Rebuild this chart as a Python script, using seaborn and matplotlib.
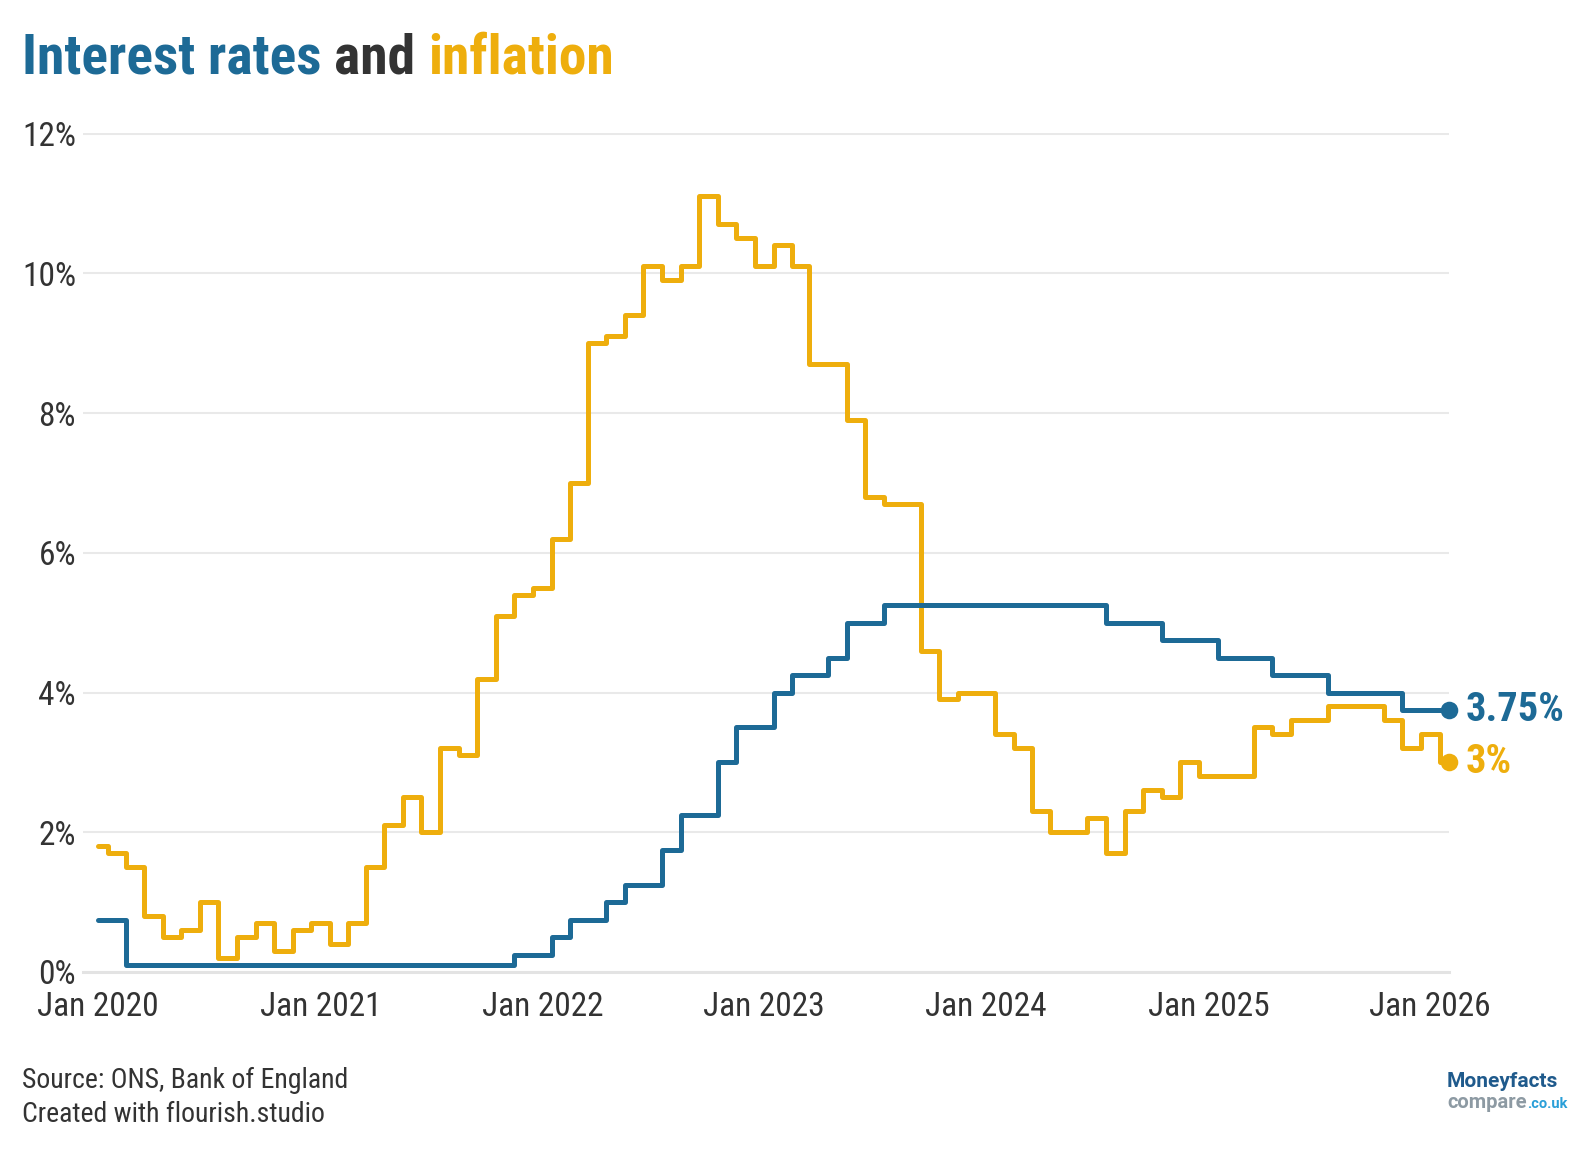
import matplotlib
matplotlib.use("Agg")
import matplotlib.pyplot as plt
import seaborn as sns
import pandas as pd

# monthly points, Jan 2020 - Feb 2026
months = pd.date_range("2020-01-01", "2026-02-01", freq="MS")

inflation = [
    1.8, 1.7, 1.5, 0.8, 0.5, 0.6, 1.0, 0.2, 0.5, 0.7, 0.3, 0.6,
    0.7, 0.4, 0.7, 1.5, 2.1, 2.5, 2.0, 3.2, 3.1, 4.2, 5.1, 5.4,
    5.5, 6.2, 7.0, 9.0, 9.1, 9.4, 10.1, 9.9, 10.1, 11.1, 10.7, 10.5,
    10.1, 10.4, 10.1, 8.7, 8.7, 7.9, 6.8, 6.7, 6.7, 4.6, 3.9, 4.0,
    4.0, 3.4, 3.2, 2.3, 2.0, 2.0, 2.2, 1.7, 2.3, 2.6, 2.5, 3.0,
    2.8, 2.8, 2.8, 3.5, 3.4, 3.6, 3.6, 3.8, 3.8, 3.8, 3.6, 3.2,
    3.4, 3.0,
]

bank_rate = [
    0.75, 0.75, 0.1, 0.1, 0.1, 0.1, 0.1, 0.1, 0.1, 0.1, 0.1, 0.1,
    0.1, 0.1, 0.1, 0.1, 0.1, 0.1, 0.1, 0.1, 0.1, 0.1, 0.1, 0.25,
    0.25, 0.5, 0.75, 0.75, 1.0, 1.25, 1.25, 1.75, 2.25, 2.25, 3.0, 3.5,
    3.5, 4.0, 4.25, 4.25, 4.5, 5.0, 5.0, 5.25, 5.25, 5.25, 5.25, 5.25,
    5.25, 5.25, 5.25, 5.25, 5.25, 5.25, 5.25, 5.0, 5.0, 5.0, 4.75, 4.75,
    4.75, 4.5, 4.5, 4.5, 4.25, 4.25, 4.25, 4.0, 4.0, 4.0, 4.0, 3.75,
    3.75, 3.75,
]

year_ticks = pd.date_range("2020-01-01", "2026-01-01", freq="YS")
x_labels = [f"Jan {d.year}" for d in year_ticks]
y_ticks = [0, 2, 4, 6, 8, 10, 12]
y_labels = [f"{v}%" for v in y_ticks]

BLUE = "#1d6a96"
GOLD = "#eeae0d"
DARK = "#333333"
GRID = "#e9e9e9"

sns.set_theme(style="white")
plt.rcParams["font.family"] = ["Roboto Condensed", "DejaVu Sans"]

W, H = 1588, 1150
fig = plt.figure(figsize=(W / 100, H / 100), dpi=100)
ax = fig.add_axes([83 / W, 1 - 972 / H, (1449 - 83) / W, (972 - 133.5) / H])

df = pd.DataFrame({"date": months, "inflation": inflation, "rate": bank_rate})

sns.lineplot(data=df, x="date", y="inflation", color=GOLD, lw=3.6,
             drawstyle="steps-mid", ax=ax, zorder=3)
sns.lineplot(data=df, x="date", y="rate", color=BLUE, lw=3.6,
             drawstyle="steps-mid", ax=ax, zorder=4)

last = df.tail(1)
sns.scatterplot(data=last, x="date", y="inflation", color=GOLD, s=160,
                linewidth=0, ax=ax, zorder=5, clip_on=False)
sns.scatterplot(data=last, x="date", y="rate", color=BLUE, s=160,
                linewidth=0, ax=ax, zorder=5, clip_on=False)

end = last["date"].iloc[0]
ax.annotate(f"{bank_rate[-1]:g}%", (end, bank_rate[-1]), xytext=(12, 0),
            textcoords="offset points", va="center", ha="left",
            fontsize=29, fontweight="bold", color=BLUE, annotation_clip=False)
ax.annotate(f"{inflation[-1]:g}%", (end, inflation[-1]), xytext=(12, 0),
            textcoords="offset points", va="center", ha="left",
            fontsize=29, fontweight="bold", color=GOLD, annotation_clip=False)

ax.set_xlim(pd.Timestamp("2019-12-07"), pd.Timestamp("2026-02-01"))
ax.set_ylim(0, 12)
ax.set_xticks(year_ticks)
ax.set_xticklabels(x_labels)
ax.set_yticks(y_ticks)
ax.set_yticklabels(y_labels)
ax.set_xlabel("")
ax.set_ylabel("")

ax.yaxis.grid(True, color=GRID, lw=1.5)
ax.xaxis.grid(False)
for side in ["top", "right", "left"]:
    ax.spines[side].set_visible(False)
ax.spines["bottom"].set_color("#e3e3e3")
ax.spines["bottom"].set_linewidth(2.2)
ax.tick_params(axis="x", length=9.5, width=2.2, color="#e3e3e3", pad=4,
               labelsize=24, labelcolor=DARK)
ax.tick_params(axis="y", length=0, pad=5, labelsize=24, labelcolor=DARK)
ax.set_facecolor("white")

# title in three colours
fig.canvas.draw()
renderer = fig.canvas.get_renderer()
x = 22 / W
for part, col in [("Interest rates ", BLUE), ("and ", DARK), ("inflation", GOLD)]:
    t = fig.text(x, 1 - 74 / H, part, fontsize=40, fontweight="bold",
                 color=col, va="baseline", ha="left")
    bb = t.get_window_extent(renderer)
    x += bb.width / W

fig.text(22 / W, 1 - 1088 / H, "Source: ONS, Bank of England", fontsize=20,
         color=DARK, va="baseline")
fig.text(22 / W, 1 - 1122 / H, "Created with flourish.studio", fontsize=20,
         color=DARK, va="baseline")

fig.text(1447 / W, 1 - 1087 / H, "Moneyfacts", fontsize=15, fontweight="bold",
         color="#1f5a8c", va="baseline", family="Roboto")
t = fig.text(1447 / W, 1 - 1108 / H, "compare", fontsize=14.5, fontweight="bold",
             color="#8d9aa3", va="baseline", family="Roboto")
bb = t.get_window_extent(renderer)
fig.text(1447 / W + bb.width / W, 1 - 1108 / H, ".co.uk", fontsize=10.5,
         fontweight="bold", color="#2a9fd8", va="baseline", family="Roboto")

fig.savefig("out.png", dpi=100, facecolor="white")
